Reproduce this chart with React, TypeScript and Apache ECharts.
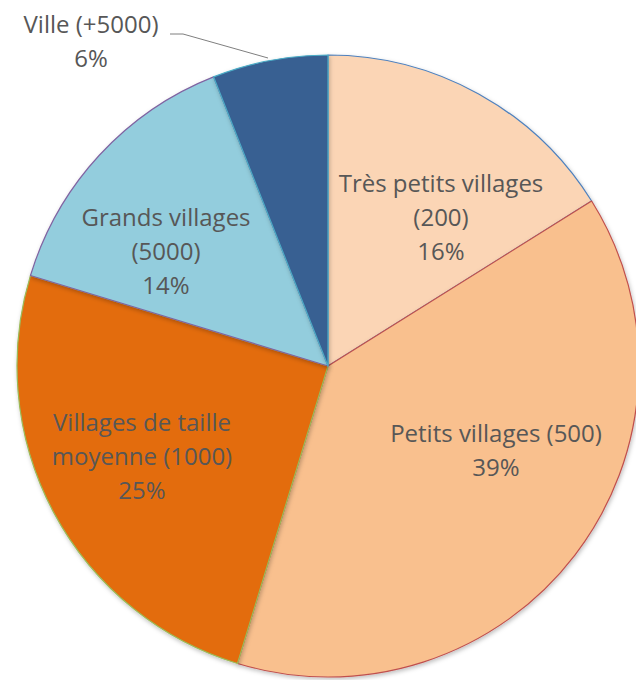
import React, { useEffect, useRef } from "react";
import * as echarts from "echarts";

const categories = [
  "Très petits villages\n(200)",
  "Petits villages (500)",
  "Villages de taille\nmoyenne (1000)",
  "Grands villages\n(5000)",
  "Ville (+5000)",
];
const shares = [16.1, 38.6, 25.0, 14.3, 6.0];
const fillColors = ["#FBD5B5", "#F9C08E", "#E36C0A", "#93CDDD", "#376092"];
const borderColors = ["#4F81BD", "#C0504D", "#9BBB59", "#8064A2", "#4BACC6"];
const labelCenters = [
  [441, 216],
  [496, 449],
  [142, 455],
  [166, 250],
  [91, 40],
];

export default function App() {
  const ref = useRef<HTMLDivElement>(null);
  useEffect(() => {
    if (!ref.current) return;
    const chart = echarts.init(ref.current, undefined, { renderer: "svg" });
    const data = categories.map((name, i) => ({
      name,
      value: shares[i],
      itemStyle: { color: fillColors[i], borderColor: borderColors[i], borderWidth: 1.2 },
      label: { position: i === 4 ? "outside" : "inside" },
      labelLine: { show: i === 4, lineStyle: { color: "#7f7f7f", width: 1 } },
    }));
    chart.setOption({
      animation: false,
      backgroundColor: "#ffffff",
      series: [
        {
          type: "pie",
          center: [328, 366],
          radius: 311,
          startAngle: 90,
          clockwise: true,
          percentPrecision: 0,
          data,
          label: {
            show: true,
            formatter: "{b}\n{d}%",
            color: "#575757",
            fontFamily: "Open Sans",
            fontSize: 24,
            lineHeight: 34,
            align: "center",
          },
          emphasis: { disabled: true },
          itemStyle: {
            shadowBlur: 4,
            shadowColor: "rgba(0,0,0,0.25)",
            shadowOffsetX: 1,
            shadowOffsetY: 2,
          },
          labelLayout: (params: any) => {
            const p = labelCenters[params.dataIndex];
            const res: any = { x: p[0], y: p[1], align: "center", verticalAlign: "middle" };
            if (params.dataIndex === 4) {
              res.labelLinePoints = [
                [170, 34],
                [183, 34],
                [268, 58],
              ];
            }
            return res;
          },
        },
      ],
    });
    return () => chart.dispose();
  }, []);
  return (
    <div
      ref={ref}
      style={{ position: "fixed", left: 0, top: 0, width: 636, height: 680 }}
    />
  );
}
